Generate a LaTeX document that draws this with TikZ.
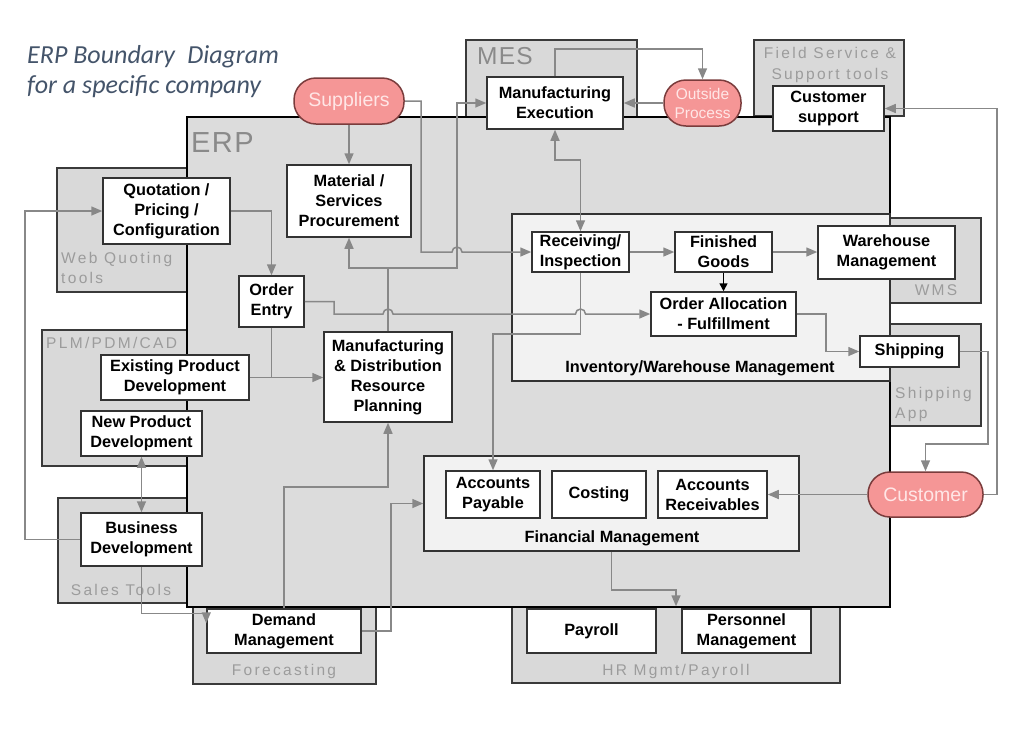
\documentclass[tikz,border=0pt]{standalone}
\usepackage{fontspec}
\setmainfont{Liberation Sans}
\newfontfamily\titlefont{Carlito}
\newfontfamily\lblfont[LetterSpace=15]{Liberation Sans}
\newfontfamily\biglblfont[LetterSpace=5]{Liberation Sans}
\usetikzlibrary{arrows.meta}
\definecolor{erpfill}{HTML}{DCDCDC}
\definecolor{toolfill}{HTML}{D9D9D9}
\definecolor{innerfill}{HTML}{F2F2F2}
\definecolor{toolline}{HTML}{3A3A3A}
\definecolor{boxline}{HTML}{333333}
\definecolor{conncol}{HTML}{888888}
\definecolor{lblgray}{HTML}{9C9C9C}
\definecolor{biggray}{HTML}{8A8A8A}
\definecolor{pinkfill}{HTML}{F59696}
\definecolor{pinkline}{HTML}{7A3C3C}
\definecolor{pinktext}{HTML}{FFE6E6}
\definecolor{titlecol}{HTML}{44546A}
\newcommand\rbox[7]{\node[#1, minimum width={(#5-#3)*1pt}, minimum height={(#6-#4)*1pt}] (#2) at ({(#3+#5)/2},{(#4+#6)/2}) {#7};}
\begin{document}
\begin{tikzpicture}[x=1pt,y=-1pt,
  >={Triangle[length=11pt,width=9pt]},
  tool/.style={draw=toolline, line width=1.5pt, fill=toolfill, inner sep=0pt},
  erpbox/.style={draw=black, line width=2pt, fill=erpfill, inner sep=0pt},
  inner/.style={draw=boxline, line width=1.5pt, fill=innerfill, inner sep=0pt},
  wbox/.style={draw=boxline, line width=1.5pt, fill=white, inner sep=0pt, align=center,
    font=\bfseries\fontsize{16.3}{20}\selectfont},
  pinkS/.style={draw=pinkline, line width=1.5pt, fill=pinkfill, rounded corners=22pt, inner sep=0pt,
    text=pinktext, align=center, font=\fontsize{19.5}{22}\selectfont},
  pinkO/.style={pinkS, font=\fontsize{15.5}{19}\selectfont},
  lbl/.style={text=lblgray, inner sep=0pt, font=\lblfont\fontsize{15.5}{20}\selectfont},
  biglbl/.style={text=biggray, inner sep=0pt, font=\biglblfont\fontsize{29}{32}\selectfont},
  midlbl/.style={text=biggray, inner sep=0pt, font=\biglblfont\fontsize{24.5}{28}\selectfont},
  boldlbl/.style={inner sep=0pt, font=\bfseries\fontsize{16.3}{20}\selectfont},
  ttl/.style={text=titlecol, inner sep=0pt, font=\titlefont\itshape\fontsize{26}{32}\selectfont},
  conn/.style={draw=conncol, line width=1.5pt},
  blk/.style={draw=black, line width=1.5pt, -{Triangle[length=8pt,width=8pt]}}
]
\useasboundingbox (0,0) rectangle (1024,737);

% title
\node[ttl, anchor=base west] (t1) at (27,63) {ERP Boundary\hspace{0.25em} Diagram};
\node[ttl, anchor=base west] (t2) at (27,93) {for a specific company};

% outside tool boxes
\rbox{tool}{mesT}{466}{40}{637}{117}{}
\rbox{tool}{fsT}{754}{40}{904}{116}{}
\rbox{tool}{wqT}{57}{168}{187}{292}{}
\rbox{tool}{plmT}{42}{330}{187}{466}{}
\rbox{tool}{stT}{58}{498}{187}{603}{}
\rbox{tool}{fcT}{193}{607}{376}{684}{}
\rbox{tool}{hr}{512}{607}{840}{683}{}
\rbox{tool}{wmsT}{890}{218}{981}{303}{}
\rbox{tool}{saT}{890}{324}{981}{426}{}

% ERP
\rbox{erpbox}{erp}{187}{117}{890}{607}{}
\rbox{inner}{inv}{512}{214}{890}{381}{}
\rbox{inner}{fin}{424}{456}{799}{551}{}

% gray labels
\node[biglbl, anchor=base west] (lerp) at (191,152) {ERP};
\node[midlbl, anchor=base west] (lmes) at (477,64) {MES};
\node[lbl, anchor=base] (lfs1) at (830,58) {Field Service \&};
\node[lbl, anchor=base] (lfs2) at (830,79) {Support tools};
\node[lbl, anchor=base west] (lweb1) at (61,263) {Web Quoting};
\node[lbl, anchor=base west] (lweb2) at (61,283) {tools};
\node[lbl, anchor=base west] (lplm) at (46,348) {PLM/PDM/CAD};
\node[lbl, anchor=base] (lsales) at (121,595) {Sales Tools};
\node[lbl, anchor=base] (lfc) at (284,675) {Forecasting};
\node[lbl, anchor=base] (lhr) at (676,675) {HR Mgmt/Payroll};
\node[lbl, anchor=base] (lwms) at (936,295) {WMS};
\node[lbl, anchor=base west] (lsa1) at (895,398) {Shipping};
\node[lbl, anchor=base west] (lsa2) at (895,418) {App};
\node[boldlbl, anchor=base] (linv) at (700,372) {Inventory/Warehouse Management};
\node[boldlbl, anchor=base] (lfin) at (612,542) {Financial Management};

% white boxes
\rbox{wbox}{mes}{487}{77}{623}{129}{Manufacturing\\Execution}
\rbox{wbox}{proc}{287}{165}{411}{237}{Material /\\Services\\Procurement}
\rbox{wbox}{quo}{103}{178}{230}{244}{Quotation /\\Pricing /\\Configuration}
\rbox{wbox}{oe}{239}{276}{304}{327}{Order\\Entry}
\rbox{wbox}{epd}{101}{355}{249}{400}{Existing Product\\Development}
\rbox{wbox}{npd}{81}{411}{202}{456}{New Product\\Development}
\rbox{wbox}{bd}{81}{513}{202}{566}{Business\\Development}
\rbox{wbox}{mdrp}{324}{332}{452}{422}{Manufacturing\\\& Distribution\\Resource\\Planning}
\rbox{wbox}{recv}{532}{232}{629}{272}{Receiving/\\Inspection}
\rbox{wbox}{fg}{675}{232}{772}{272}{Finished\\Goods}
\rbox{wbox}{wm}{818}{226}{955}{279}{Warehouse\\Management}
\rbox{wbox}{oa}{651}{292}{796}{336}{Order Allocation\\- Fulfillment}
\rbox{wbox}{ship}{860}{336}{959}{367}{Shipping}
\rbox{wbox}{cs}{773}{86}{884}{131}{Customer\\support}
\rbox{wbox}{ap}{446}{471}{540}{518}{Accounts\\Payable}
\rbox{wbox}{cost}{552}{471}{646}{518}{Costing}
\rbox{wbox}{ar}{658}{471}{767}{518}{Accounts\\Receivables}
\rbox{wbox}{pay}{527}{609}{656}{653}{Payroll}
\rbox{wbox}{pm}{682}{609}{811}{653}{Personnel\\Management}
\rbox{wbox}{dm}{207}{609}{361}{653}{Demand\\Management}

% pink actors
\rbox{pinkS}{sup}{294}{78}{404}{124}{Suppliers}
\rbox{pinkO}{op}{664}{80}{741}{126}{Outside\\Process}
\rbox{pinkS}{cust}{868}{472}{983}{517}{Customer}

% connectors
\draw[conn,->] (sup.south) -- (proc.north);
\draw[conn,->] (sup.east) -- (421,0 |- sup.east) -- (421,0 |- recv.west) -- (452,0 |- recv.west)
  arc[start angle=180,end angle=360,radius=5] -- (recv.west);
\coordinate (jn) at (388,268);
\draw[conn] (mdrp.north) -- (jn);
\draw[conn,->] (jn) -| (proc.south);
\draw[conn,->] (jn) -- (457,268) |- (mes.west);
\draw[conn,->] (oe.east) -- (334,0 |- oe.east) -- (334,314) -- (383,314)
  arc[start angle=180,end angle=360,radius=5] -- (575.5,314)
  arc[start angle=180,end angle=360,radius=5] -- (oa.west);
\draw[conn,->] (recv.south) |- (493,334) -- (ap.north);
\draw[conn,<->] (mes.south) |- (recv.north |- 0,160) -- (recv.north);
\draw[conn,->] (mes.north) |- (op.north |- 0,49) -- (op.north);
\draw[conn,->] (op.west) -- (mes.east);
\draw[conn,->] (quo.east) -| (oe.north);
\draw[conn,->] (bd.west) -- (25,0 |- bd.west) |- (quo.west);
\draw[conn,->] (epd.east) -- (mdrp.west |- epd.east);
\draw[conn] (oe.south) -- (oe.south |- epd.east);
\draw[conn,<->] (npd.south) -- (bd.north);
\draw[conn,->] (bd.south) |- ([yshift=-5pt]dm.north west) -- ([yshift=-15pt]dm.north west);
\draw[conn,->] (dm.north) |- (mdrp.south |- 0,487) -- (mdrp.south);
\draw[conn,->] (dm.east) -- (391,0 |- dm.east) |- (fin.west);
\draw[conn,->] (cust.west) -- (ar.east);
\draw[conn,->] (ship.east) -| (988,444) -| (cust.north);
\draw[conn,->] (cust.east) -| (997,0 |- cs.east) -- (cs.east);
\draw[conn,->] (fin.south) |- (hr.north |- 0,590) -- (hr.north);
\draw[conn,->] (recv.east) -- (fg.west);
\draw[conn,->] (fg.east) -- (wm.west |- fg.east);
\draw[blk] (fg.south) -- (oa.north);
\draw[conn,->] (oa.east) -- (826,0 |- oa.east) |- (ship.west);
\end{tikzpicture}
\end{document}
